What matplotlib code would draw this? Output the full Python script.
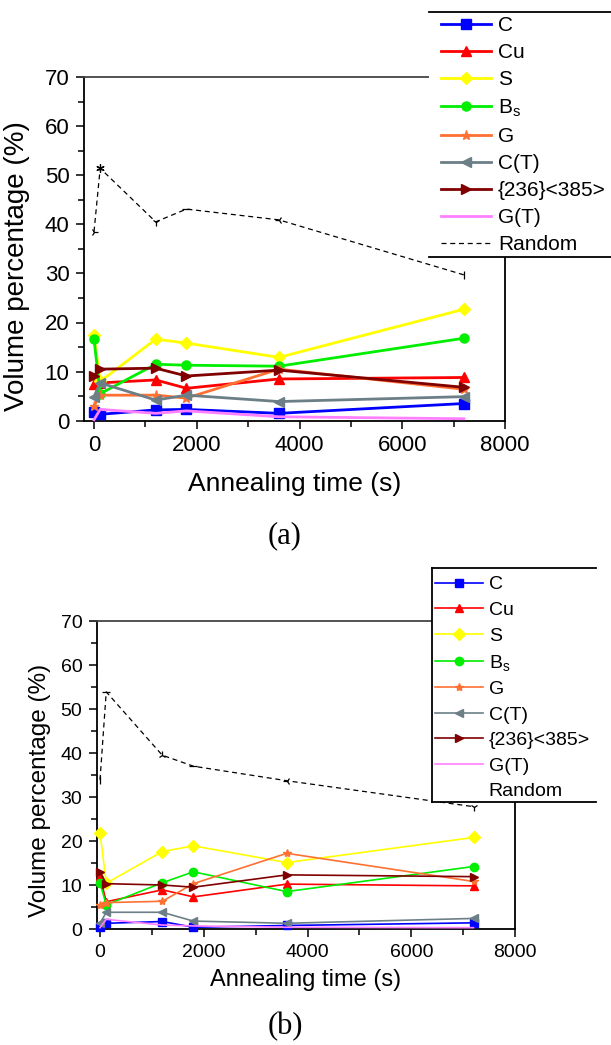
import numpy as np
import matplotlib
matplotlib.use("Agg")
from matplotlib import pyplot as plt
from matplotlib.lines import Line2D
from matplotlib.ticker import MultipleLocator

plt.rcParams['font.family'] = ['Liberation Sans', 'DejaVu Sans']
plt.rcParams['mathtext.fontset'] = 'custom'
plt.rcParams['mathtext.rm'] = 'Liberation Sans'
plt.rcParams['mathtext.it'] = 'Liberation Sans'

# annealing times (s)
t = [0, 120, 1200, 1800, 3600, 7200]

labels = ['C', 'Cu', 'S', 'B$_s$', 'G', 'C(T)', '{236}<385>', 'G(T)', 'Random']

# panel (a) volume percentages
C_a = [1.7, 1.3, 2.2, 2.3, 1.5, 3.5]
Cu_a = [7.5, 7.7, 8.3, 6.6, 8.5, 8.8]
S_a = [17.4, 8.0, 16.6, 15.8, 12.9, 22.7]
Bs_a = [16.6, 5.5, 11.5, 11.3, 11.1, 16.8]
G_a = [3.0, 5.2, 5.2, 4.6, 10.5, 6.4]
CT_a = [4.9, 7.7, 4.2, 5.2, 3.9, 4.9]
O236_a = [9.1, 10.5, 10.7, 9.1, 10.3, 6.8]
GT_a = [0.2, 2.3, 1.5, 2.0, 0.8, 0.4]
R_a = [38.5, 51.4, 40.5, 43.1, 40.9, 29.7]

# panel (b) volume percentages
C_b = [0.4, 1.3, 1.7, 0.4, 0.8, 1.4]
Cu_b = [12.0, 6.2, 8.9, 7.3, 10.2, 9.8]
S_b = [21.9, 10.4, 17.6, 18.9, 15.1, 20.8]
Bs_b = [10.5, 5.5, 10.5, 13.0, 8.5, 14.2]
G_b = [5.5, 6.0, 6.3, 10.3, 17.2, 10.8]
CT_b = [1.3, 3.8, 3.8, 1.8, 1.3, 2.4]
O236_b = [13.0, 10.3, 10.0, 9.5, 12.3, 11.9]
GT_b = [0.3, 2.2, 0.9, 0.7, 0.4, 0.3]
R_b = [33.9, 53.9, 39.5, 37.0, 33.7, 27.8]

colors = ['#0000ff', '#ff0000', '#ffff00', '#00ee00', '#ff7033',
          '#6c7f87', '#800000', '#ff80ff']
markers = ['s', '^', 'D', 'o', '*', '<', '>', None]
rnd_markers_a = ['4', (6, 2, 0), '1', '_', '3', '|']
rnd_markers_b = ['|', '_', '2', '_', '3', '1']


def draw_panel(ax, series, rnd, rnd_markers, lw, ms, xmin, tick_fs, xl_fs, yl_fs,
               xl_pos, yl_pos):
    handles = []
    for vals, c, m in zip(series, colors, markers):
        h, = ax.plot(t, vals, color=c, lw=lw, marker=m, ms=ms, mec=c, mfc=c,
                     clip_on=False, zorder=3)
        handles.append(h)
    h, = ax.plot(t, rnd, color='k', lw=0.9, ls=(0, (4, 3)), zorder=2)
    handles.append(h)
    for x, y, m in zip(t, rnd, rnd_markers):
        ax.plot(x, y, marker=m, color='k', ms=6, mew=0.9, mfc='none', zorder=2)

    ax.set_xlim(xmin, 8000)
    ax.set_ylim(0, 70)
    ax.xaxis.set_major_locator(MultipleLocator(2000))
    ax.xaxis.set_minor_locator(MultipleLocator(1000))
    ax.yaxis.set_major_locator(MultipleLocator(10))
    ax.yaxis.set_minor_locator(MultipleLocator(5))
    ax.tick_params(which='both', direction='out', width=1.1, labelsize=tick_fs,
                   top=False, right=False, pad=4.5)
    ax.tick_params(which='major', length=6)
    ax.tick_params(which='minor', length=4)
    for s in ax.spines.values():
        s.set_linewidth(1.3)
    ax.spines['top'].set_color('#444444')
    ax.set_xlabel('Annealing time (s)', fontsize=xl_fs)
    ax.set_ylabel('Volume percentage (%)', fontsize=yl_fs)
    ax.xaxis.set_label_coords(*xl_pos)
    ax.yaxis.set_label_coords(*yl_pos)
    return handles


fig = plt.figure(figsize=(6.11, 10.45), dpi=100)

ax1 = fig.add_axes([84/611, 1-420.7/1045, (505-84)/611, (420.7-77)/1045])
ax2 = fig.add_axes([97/611, 1-929/1045, (515-97)/611, (929-621)/1045])

h1 = draw_panel(ax1, [C_a, Cu_a, S_a, Bs_a, G_a, CT_a, O236_a, GT_a], R_a,
                rnd_markers_a, 2.0, 6.5, -195, 16, 19, 20,
                (0.5, -0.15), (-0.128, 0.45))
h2 = draw_panel(ax2, [C_b, Cu_b, S_b, Bs_b, G_b, CT_b, O236_b, GT_b], R_b,
                rnd_markers_b, 1.2, 6, -58, 14, 17, 17.5,
                (0.5, -0.13), (-0.11, 0.45))

# legend (a): white box over the plot corner
leg1 = fig.legend(h1, labels, loc='upper left', bbox_to_anchor=(441/611, 0.9845),
                  fontsize=15, frameon=False, borderpad=0, borderaxespad=0,
                  handlelength=2.4, handletextpad=0.33, labelspacing=0.39)
fig.patches.append(plt.Rectangle((429/611, 1-257/1045), 1, (257-11.7)/1045,
                                 transform=fig.transFigure, fc='white', ec='none',
                                 zorder=5))
leg1.set_zorder(6)
fig.add_artist(Line2D([429/611, 1], [1-11.7/1045]*2, color='k', lw=1.3, zorder=7))
fig.add_artist(Line2D([429/611, 1], [1-257/1045]*2, color='k', lw=1.3, zorder=7))

# legend (b): the Random entry has no visible line
h2[-1] = Line2D([], [], color='none')
leg2 = fig.legend(h2, labels, loc='upper left', bbox_to_anchor=(435/611, 0.449),
                  fontsize=14, frameon=False, borderpad=0, borderaxespad=0,
                  handlelength=2.45, handletextpad=0.32, labelspacing=0.41)
fig.patches.append(plt.Rectangle((432/611, 1-802/1045), (596-432)/611,
                                 (802-568.3)/1045, transform=fig.transFigure,
                                 fc='white', ec='none', zorder=5))
leg2.set_zorder(6)
fig.add_artist(Line2D([432/611, 596/611], [1-568.3/1045]*2, color='k', lw=1.3, zorder=7))
fig.add_artist(Line2D([432/611, 596/611], [1-802/1045]*2, color='k', lw=1.3, zorder=7))
fig.add_artist(Line2D([432/611]*2, [1-568.3/1045, 1-802/1045], color='k', lw=1.3, zorder=7))

fig.text(285/611, 1-536/1045, '(a)', family='Liberation Serif', fontsize=22,
         ha='center', va='center')
fig.text(285/611, 1-1027/1045, '(b)', family='Liberation Serif', fontsize=22,
         ha='center', va='center')

fig.savefig('out.png', dpi=100)
